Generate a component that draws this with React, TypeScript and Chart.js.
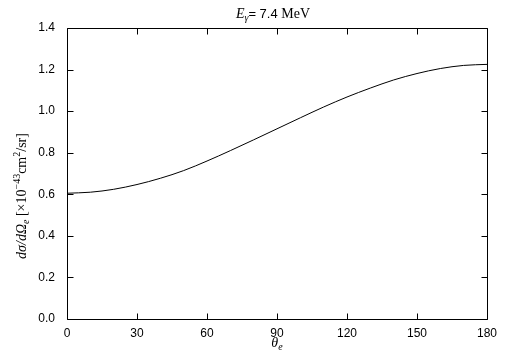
import React, { useEffect, useRef } from 'react';
import { Chart, registerables } from 'chart.js';

Chart.register(...registerables);

// Scattering angle (degrees)
const thetaDeg = [0, 10, 20, 30, 40, 50, 60, 70, 80, 90, 100, 110, 120, 130, 140, 150, 160, 170, 180];
// dσ/dΩ_e  [×10^-43 cm²/sr]
const dSigma = [0.605, 0.61, 0.624, 0.647, 0.677, 0.714, 0.76, 0.81, 0.862, 0.915, 0.968, 1.02, 1.068, 1.111, 1.15, 1.181, 1.205, 1.22, 1.225];
const xTicks = [0, 30, 60, 90, 120, 150, 180];
const yTicks = [0, 0.2, 0.4, 0.6, 0.8, 1.0, 1.2, 1.4];

const SERIF = '"Liberation Serif", "DejaVu Serif", serif';
const SANS = '"Liberation Sans", Arial, sans-serif';

type Seg = { t: string; font: string; dy?: number };

function drawRich(ctx: CanvasRenderingContext2D, segs: Seg[], cx: number, baseline: number) {
  let w = 0;
  for (const s of segs) {
    ctx.font = s.font;
    w += ctx.measureText(s.t).width;
  }
  let xx = cx - w / 2;
  ctx.textAlign = 'left';
  ctx.textBaseline = 'alphabetic';
  for (const s of segs) {
    ctx.font = s.font;
    ctx.fillText(s.t, xx, baseline + (s.dy || 0));
    xx += ctx.measureText(s.t).width;
  }
}

const framePlugin = {
  id: 'frame',
  afterDraw(chart: any) {
    const { ctx, chartArea: a, scales } = chart;
    const xs = scales.x;
    const ys = scales.y;
    const L = Math.round(a.left) + 0.5;
    const R = Math.round(a.right) + 0.5;
    const T = Math.round(a.top) + 0.5;
    const B = Math.round(a.bottom) + 0.5;
    const tl = 6;
    ctx.save();
    ctx.strokeStyle = '#000';
    ctx.lineWidth = 1;
    ctx.beginPath();
    ctx.rect(L, T, R - L, B - T);
    for (const v of xTicks) {
      const px = Math.round(xs.getPixelForValue(v)) + 0.5;
      ctx.moveTo(px, B);
      ctx.lineTo(px, B - tl);
      ctx.moveTo(px, T);
      ctx.lineTo(px, T + tl);
    }
    for (const v of yTicks) {
      const py = Math.round(ys.getPixelForValue(v)) + 0.5;
      ctx.moveTo(L, py);
      ctx.lineTo(L + tl, py);
      ctx.moveTo(R, py);
      ctx.lineTo(R - tl, py);
    }
    ctx.stroke();

    ctx.fillStyle = '#000';
    const cx = (a.left + a.right) / 2;
    // Title
    drawRich(ctx, [
      { t: 'E', font: `italic 14px ${SERIF}` },
      { t: 'γ', font: `italic 10px ${SERIF}`, dy: 3 },
      { t: '= 7.4 ', font: `13px ${SANS}` },
      { t: 'MeV', font: `14px ${SERIF}` },
    ], cx - 4, 18);
    // x-axis label
    drawRich(ctx, [
      { t: 'θ', font: `italic 14px ${SERIF}` },
      { t: 'e', font: `italic 10px ${SERIF}`, dy: 3 },
    ], cx, 347);
    // y-axis label
    ctx.save();
    ctx.translate(26, 196);
    ctx.rotate(-Math.PI / 2);
    drawRich(ctx, [
      { t: 'dσ/dΩ', font: `italic 14px ${SERIF}` },
      { t: 'e', font: `italic 10px ${SERIF}`, dy: 3 },
      { t: ' [×10', font: `14px ${SERIF}` },
      { t: '−43', font: `10px ${SERIF}`, dy: -6 },
      { t: 'cm', font: `14px ${SERIF}` },
      { t: '2', font: `10px ${SERIF}`, dy: -6 },
      { t: '/sr]', font: `14px ${SERIF}` },
    ], 0, 0);
    ctx.restore();
    ctx.restore();
  },
};

export default function App() {
  const ref = useRef<HTMLCanvasElement | null>(null);
  useEffect(() => {
    if (!ref.current) return;
    const chart = new Chart(ref.current, {
      type: 'line',
      data: {
        datasets: [
          {
            data: thetaDeg.map((t, i) => ({ x: t, y: dSigma[i] })),
            borderColor: '#000',
            borderWidth: 1,
            pointRadius: 0,
            fill: false,
            cubicInterpolationMode: 'monotone',
          },
        ],
      },
      options: {
        animation: false,
        responsive: false,
        layout: { padding: { top: 28, right: 18, left: 0, bottom: 0 } },
        plugins: {
          legend: { display: false },
          tooltip: { enabled: false },
          title: { display: false },
        },
        scales: {
          x: {
            type: 'linear',
            min: 0,
            max: 180,
            afterFit: (s: any) => { s.height = 42; },
            afterBuildTicks: (s: any) => { s.ticks = xTicks.map((v) => ({ value: v })); },
            grid: { display: false, drawTicks: false },
            border: { display: false },
            ticks: {
              padding: 7,
              color: '#000',
              font: { family: SANS, size: 12 },
              maxRotation: 0,
              callback: (v: any) => String(v),
            },
          },
          y: {
            type: 'linear',
            min: 0,
            max: 1.4,
            afterFit: (s: any) => { s.width = 67; },
            afterBuildTicks: (s: any) => { s.ticks = yTicks.map((v) => ({ value: v })); },
            grid: { display: false, drawTicks: false },
            border: { display: false },
            ticks: {
              padding: 12,
              color: '#000',
              font: { family: SANS, size: 12 },
              callback: (v: any) => Number(v).toFixed(1),
            },
          },
        },
      },
      plugins: [framePlugin],
    } as any);
    return () => chart.destroy();
  }, []);
  return (
    <div style={{ position: 'fixed', left: 0, top: 0, width: 505, height: 361, background: '#fff' }}>
      <canvas ref={ref} width={505} height={361} style={{ display: 'block' }} />
    </div>
  );
}
